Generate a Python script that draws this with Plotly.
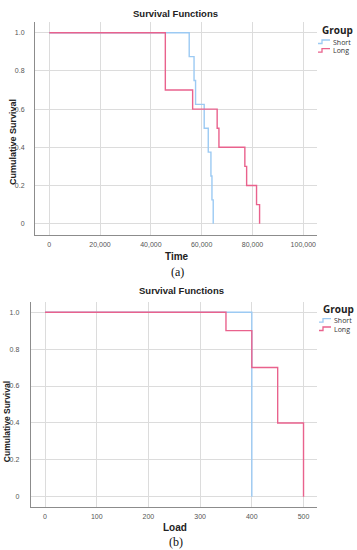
import plotly.graph_objects as go

W, H = 357, 550

# ---- Data (a): Time ----
time_short_x = [0, 55100, 57000, 57600, 61000, 62600, 63650, 64050, 64550]
time_short_y = [1.0, 0.875, 0.75, 0.625, 0.5, 0.375, 0.25, 0.125, 0.0]
time_long_x = [0, 45700, 56450, 66100, 66800, 77000, 77700, 81600, 82800]
time_long_y = [1.0, 0.7, 0.6, 0.5, 0.4, 0.3, 0.2, 0.1, 0.0]

# ---- Data (b): Load ----
load_short_x = [0, 400]
load_short_y = [1.0, 0.0]
load_long_x = [0, 350, 400, 450, 500]
load_long_y = [1.0, 0.9, 0.7, 0.4, 0.0]

time_ticks = [0, 20000, 40000, 60000, 80000, 100000]
time_ticklabels = ["0", "20,000", "40,000", "60,000", "80,000", "100,000"]
load_ticks = [0, 100, 200, 300, 400, 500]
load_ticklabels = ["0", "100", "200", "300", "400", "500"]
surv_ticks = [0, 0.2, 0.4, 0.6, 0.8, 1.0]
surv_ticklabels = ["0", "0.2", "0.4", "0.6", "0.8", "1.0"]

BLUE = "#9ccaf3"
PINK = "#e9628d"
GRID = "#dcdcdc"
AXIS = "#8c8c8c"
TICKFONT = dict(family="Liberation Sans", size=7, color="#555555")


def px(x):
    return x / W


def py(y):
    return 1 - y / H


fig = go.Figure()
fig.add_trace(go.Scatter(x=time_short_x, y=time_short_y, mode="lines", line=dict(shape="hv", color=BLUE, width=1.4),
                         xaxis="x", yaxis="y", showlegend=False, name="Short"))
fig.add_trace(go.Scatter(x=time_long_x, y=time_long_y, mode="lines", line=dict(shape="hv", color=PINK, width=1.4),
                         xaxis="x", yaxis="y", showlegend=False, name="Long"))
fig.add_trace(go.Scatter(x=load_short_x, y=load_short_y, mode="lines", line=dict(shape="hv", color=BLUE, width=1.4),
                         xaxis="x2", yaxis="y2", showlegend=False, name="Short"))
fig.add_trace(go.Scatter(x=load_long_x, y=load_long_y, mode="lines", line=dict(shape="hv", color=PINK, width=1.4),
                         xaxis="x2", yaxis="y2", showlegend=False, name="Long"))

common_x = dict(showgrid=True, gridcolor=GRID, gridwidth=1, showline=True, linecolor=AXIS, linewidth=1,
                zeroline=False, tickfont=TICKFONT, ticks="", ticklabelstandoff=3)
common_y = dict(showgrid=True, gridcolor=GRID, gridwidth=1, showline=True, linecolor=AXIS, linewidth=1,
                zeroline=False, tickfont=TICKFONT, ticks="", ticklabelstandoff=8,
                tickvals=surv_ticks, ticktext=surv_ticklabels)

fig.update_layout(
    width=W, height=H, margin=dict(l=0, r=0, t=0, b=0),
    paper_bgcolor="white", plot_bgcolor="white", showlegend=False,
    xaxis=dict(domain=[px(35), px(317)], range=[-5600, 105400], anchor="y",
               tickvals=time_ticks, ticktext=time_ticklabels, **common_x),
    yaxis=dict(domain=[py(235), py(22)], range=[-0.059, 1.056], anchor="x", **common_y),
    xaxis2=dict(domain=[px(30.7), px(316.7)], range=[-27.7, 525.5], anchor="y2",
                tickvals=load_ticks, ticktext=load_ticklabels, **common_x),
    yaxis2=dict(domain=[py(506.7), py(301.7)], range=[-0.054, 1.057], anchor="x2",
                **{**common_y, "ticklabelstandoff": 9}),
)

ann = []
bold = dict(family="Liberation Sans", size=9.5, color="#222222")
ann.append(dict(text="<b>Survival Functions</b>", x=px(175), y=py(13), font=bold))
ann.append(dict(text="<b>Survival Functions</b>", x=px(181.5), y=py(290), font=bold))
ann.append(dict(text="<b>Time</b>", x=px(177), y=py(256), font=dict(family="Liberation Sans", size=10, color="#222222")))
ann.append(dict(text="<b>Load</b>", x=px(175), y=py(527), font=dict(family="Liberation Sans", size=10, color="#222222")))
ann.append(dict(text="<b>Cumulative Survival</b>", x=px(13), y=py(142), textangle=-90,
                font=dict(family="Liberation Sans", size=9, color="#222222")))
ann.append(dict(text="<b>Cumulative Survival</b>", x=px(6.5), y=py(421.7), textangle=-90,
                font=dict(family="Liberation Sans", size=8.5, color="#222222")))
ann.append(dict(text="(a)", x=px(177), y=py(272), font=dict(family="Liberation Serif", size=12, color="#111111")))
ann.append(dict(text="(b)", x=px(176), y=py(541.5), font=dict(family="Liberation Serif", size=12, color="#111111")))

shapes = []


def legend_block(top_group, y_short, y_long, x_left):
    ann.append(dict(text="<b>Group</b>", x=px(x_left + 2), y=py(top_group), xanchor="left",
                    font=dict(family="Open Sans", size=10, color="#222222")))
    for yy, col, label in [(y_short, BLUE, "Short"), (y_long, PINK, "Long")]:
        x0, x1, x2 = x_left, x_left + 4, x_left + 12
        ylo, yhi = yy + 1.5, yy - 2
        path = f"M {px(x0)},{py(ylo)} L {px(x1)},{py(ylo)} L {px(x1)},{py(yhi)} L {px(x2)},{py(yhi)}"
        shapes.append(dict(type="path", xref="paper", yref="paper", path=path,
                           line=dict(color=col, width=1.3)))
        ann.append(dict(text=label, x=px(x_left + 12.5), y=py(yy), xanchor="left",
                        font=dict(family="Open Sans", size=7, color="#333333")))


legend_block(30, 42, 50.7, 318)
legend_block(309.3, 320.7, 329, 319)

for a in ann:
    a.setdefault("xref", "paper")
    a.setdefault("yref", "paper")
    a.setdefault("showarrow", False)
    a.setdefault("xanchor", "center")
    a.setdefault("yanchor", "middle")

fig.update_layout(annotations=ann, shapes=shapes)
fig.write_html("out.html", config={"displayModeBar": False},
               post_script="document.body.style.margin='0';")
